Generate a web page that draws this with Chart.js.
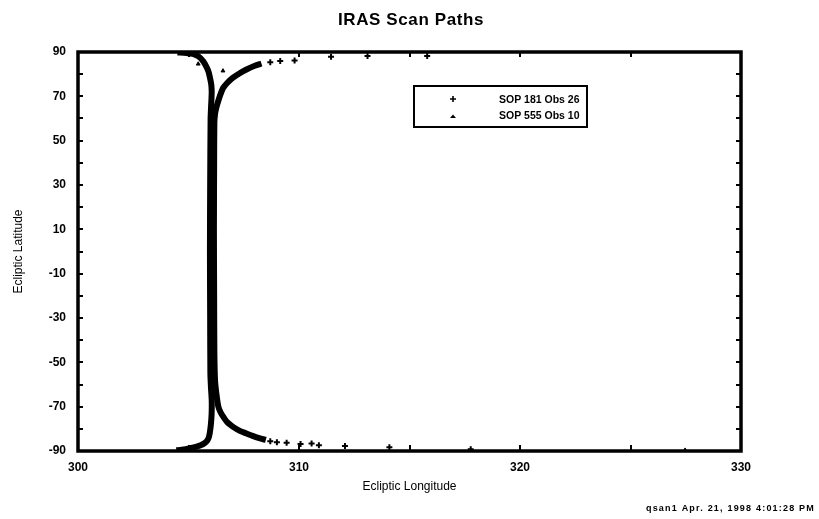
<!DOCTYPE html>
<html>
<head>
<meta charset="utf-8">
<script src="https://cdn.jsdelivr.net/npm/chart.js@4.4.1/dist/chart.umd.min.js"></script>
<style>
  html, body { margin: 0; padding: 0; background: #fff; }
  #wrap { width: 819px; height: 519px; position: relative; }
</style>
</head>
<body>
<div id="wrap"><canvas id="c" width="819" height="519"></canvas></div>
<script>
// ---- chart text ----
const chartTitle = 'IRAS Scan Paths';
const xTitle = 'Ecliptic Longitude';
const yTitle = 'Ecliptic Latitude';
const footerText = 'qsan1 Apr. 21, 1998 4:01:28 PM';
const seriesNames = ['SOP 181 Obs 26', 'SOP 555 Obs 10'];

// ---- axes ----
const lonMin = 300, lonMax = 330, lonStep = 5, lonLabelStep = 10;
const latMin = -90, latMax = 90, latStep = 10, latLabelStep = 20;

// ---- SOP 181 Obs 26 : continuous scan path (dense samples) ----
const sop181PathLon = [308.3, 308.0, 307.6, 307.3, 307.0, 306.75, 306.57, 306.45, 306.35, 306.26,
  306.2, 306.17, 306.16, 306.15, 306.16, 306.17, 306.2, 306.26, 306.35, 306.45,
  306.57, 306.75, 307.0, 307.3, 307.6, 307.9, 308.2, 308.5];
const sop181PathLat = [84.8, 83.8, 82, 80.3, 78.3, 76, 73.8, 71, 68, 65,
  62, 58, 40, 10, -20, -45, -58, -64, -70, -72.5,
  -74.5, -77, -79, -80.8, -82, -83.2, -84.2, -85];
// ---- SOP 181 Obs 26 : isolated samples near the poles ----
const sop181DotLon = [308.7, 309.15, 309.8, 311.45, 313.1, 315.8,
  308.7, 309.0, 309.44, 310.07, 310.57, 310.9, 312.08, 314.09, 317.77];
const sop181DotLat = [85.4, 85.9, 86.2, 87.9, 88.2, 88.2,
  -85.6, -86.1, -86.3, -86.8, -86.6, -87.4, -87.7, -88.3, -89.2];

// ---- SOP 555 Obs 10 : continuous scan path ----
const sop555PathLon = [304.5, 304.9, 305.2, 305.45, 305.67, 305.8, 305.9, 305.98, 306.03, 306.05,
  306.04, 306.02, 306.0, 305.98, 305.97, 305.98, 305.99, 306.02, 306.05, 306.05,
  306.03, 305.99, 305.93, 305.85, 305.72, 305.55, 305.37, 305.07, 304.7, 304.45];
const sop555PathLat = [89.8, 89.6, 89.2, 88, 85.8, 83.5, 81.3, 78, 75.3, 72,
  69, 65, 60, 30, 0, -30, -55, -62, -67, -72,
  -76, -80, -83.5, -85.3, -86.5, -87.4, -88, -88.7, -89.4, -89.7];
// ---- SOP 555 Obs 10 : isolated samples ----
const sop555DotLon = [305.44, 306.56, 327.47];
const sop555DotLat = [84.6, 81.5, -89.6];

const toXY = (xs, ys) => xs.map((v, i) => ({ x: v, y: ys[i] }));

const FONT = '"Liberation Sans", Arial, sans-serif';

const decor = {
  id: 'decor',
  afterDraw(chart) {
    const { ctx, chartArea: a, scales: { x, y } } = chart;
    ctx.save();
    ctx.strokeStyle = '#000';
    ctx.fillStyle = '#000';
    // inward tick marks on all four sides
    ctx.lineWidth = 2;
    const tl = 5;
    ctx.beginPath();
    x.ticks.forEach(t => {
      const px = Math.round(x.getPixelForValue(t.value));
      ctx.moveTo(px, a.bottom); ctx.lineTo(px, a.bottom - tl - 1);
      ctx.moveTo(px, a.top); ctx.lineTo(px, a.top + tl);
    });
    y.ticks.forEach(t => {
      const py = Math.round(y.getPixelForValue(t.value));
      ctx.moveTo(a.left, py); ctx.lineTo(a.left + tl, py);
      ctx.moveTo(a.right, py); ctx.lineTo(a.right - tl, py);
    });
    ctx.stroke();
    // frame
    ctx.lineWidth = 3.5;
    ctx.strokeRect(a.left, a.top, a.right - a.left, a.bottom - a.top);

    // title
    ctx.font = 'bold 17px ' + FONT;
    ctx.textAlign = 'center';
    ctx.textBaseline = 'middle';
    ctx.letterSpacing = '0.6px';
    ctx.fillText(chartTitle, 411, 20);

    // legend box
    ctx.letterSpacing = '0px';
    ctx.lineWidth = 2;
    ctx.strokeRect(414, 86, 173, 41);
    ctx.font = 'bold 10.5px ' + FONT;
    ctx.textAlign = 'left';
    ctx.fillText(seriesNames[0], 499, 100);
    ctx.fillText(seriesNames[1], 499, 116);
    // legend markers
    ctx.lineWidth = 1.6;
    ctx.beginPath();
    ctx.moveTo(450, 99); ctx.lineTo(456, 99);
    ctx.moveTo(453, 96); ctx.lineTo(453, 102);
    ctx.stroke();
    ctx.beginPath();
    ctx.moveTo(450, 118); ctx.lineTo(456, 118); ctx.lineTo(453, 114.5); ctx.closePath();
    ctx.fill();

    // footer
    ctx.font = 'bold 9px ' + FONT;
    ctx.letterSpacing = '1.2px';
    ctx.textAlign = 'right';
    ctx.fillText(footerText, 815, 509);
    ctx.restore();
  }
};

const tickFont = { family: FONT, weight: 'bold', size: 12 };

new Chart(document.getElementById('c'), {
  type: 'scatter',
  data: {
    datasets: [
      { label: seriesNames[0] + ' path', data: toXY(sop181PathLon, sop181PathLat), showLine: true,
        borderColor: '#000', borderWidth: 6, pointRadius: 0, tension: 0.2, fill: false },
      { label: seriesNames[0], data: toXY(sop181DotLon, sop181DotLat), pointStyle: 'cross',
        pointRadius: 3, pointBorderWidth: 2, borderColor: '#000', backgroundColor: '#000' },
      { label: seriesNames[1] + ' path', data: toXY(sop555PathLon, sop555PathLat), showLine: true,
        borderColor: '#000', borderWidth: 6, pointRadius: 0, tension: 0.2, fill: false },
      { label: seriesNames[1], data: toXY(sop555DotLon, sop555DotLat), pointStyle: 'triangle',
        pointRadius: 2.2, pointBorderWidth: 1, borderColor: '#000', backgroundColor: '#000' }
    ]
  },
  options: {
    responsive: false,
    animation: false,
    layout: { padding: { top: 52, right: 78, bottom: 18, left: 0 } },
    plugins: { legend: { display: false }, title: { display: false }, tooltip: { enabled: false } },
    scales: {
      x: {
        type: 'linear', min: lonMin, max: lonMax,
        grid: { display: false, drawTicks: false }, border: { display: false },
        ticks: { stepSize: lonStep, autoSkip: false, maxRotation: 0, padding: 9, color: '#000', font: tickFont,
          callback: v => (v % lonLabelStep === 0 ? String(v) : '') },
        title: { display: true, text: xTitle, color: '#000', font: { family: FONT, size: 12 }, padding: 7 },
        afterFit: s => { s.height = 50; }
      },
      y: {
        type: 'linear', min: latMin, max: latMax,
        grid: { display: false, drawTicks: false }, border: { display: false },
        ticks: { stepSize: latStep, autoSkip: false, padding: 12, color: '#000', font: tickFont,
          callback: v => ((v - latMin) % latLabelStep === 0 ? String(v) : '') },
        title: { display: true, text: yTitle, color: '#000', font: { family: FONT, size: 12 }, padding: 11 },
        afterFit: s => { s.width = 78; }
      }
    }
  },
  plugins: [decor]
});
</script>
</body>
</html>
